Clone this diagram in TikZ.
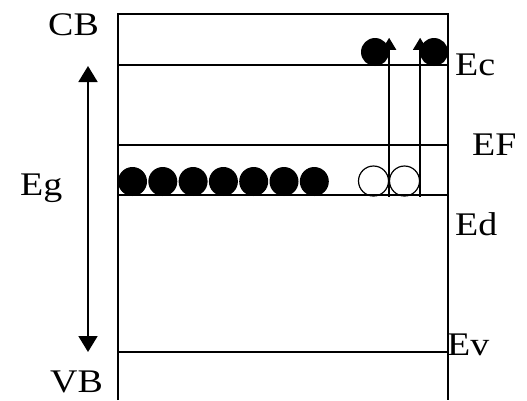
\documentclass[tikz,border=0pt]{standalone}
\usepackage{fontspec}
\setmainfont{Liberation Serif}[FakeStretch=1.15]
\usetikzlibrary{arrows.meta}

\begin{document}
\begin{tikzpicture}[x=1pt,y=-1pt]
	\tikzstyle{every node}+=[inner sep=0pt]
	\tikzstyle{lbl}=[anchor=base west, font=\fontsize{33}{33}\selectfont]
	\tikzstyle{band}=[black, line width=1.5pt]
	\tikzstyle{full}=[circle, fill=black, minimum size=29pt]
	\tikzstyle{hole}=[circle, draw=black, line width=1.2pt, minimum size=30pt]
	\tikzstyle{jump}=[black, line width=1.5pt, -{Triangle[length=12pt,width=14pt]}]
	\useasboundingbox (0,0) rectangle (527,400);
	\draw [band] (118,400) -- (118,14) -- (448,14) -- (448,400);
	\draw [band] (118,65) -- (448,65);
	\draw [band] (118,145) -- (448,145);
	\draw [band] (118,195) -- (448,195);
	\draw [band] (118,352) -- (448,352);
	\foreach \i in {0,...,6}
		\node [full] (d\i) at (132.5+30.3*\i,181.5) {};
	\node [hole] (h1) at (373.5,181) {};
	\node [hole] (h2) at (404.5,181) {};
	\node [full, minimum size=28pt] (c1) at (375,52) {};
	\node [full, minimum size=28pt] (c2) at (434,52) {};
	\draw [jump] (h1.east |- h1.south) -- (h1.east |- c1.north);
	\draw [jump] (h2.east |- h2.south) -- (h2.east |- c2.north);
	\coordinate (gtop) at (88,66);
	\coordinate (gbot) at (88,352);
	\draw [black, line width=1.8pt, {Triangle[length=16pt,width=19pt]}-{Triangle[length=16pt,width=19pt]}] (gtop) -- (gbot);
	\node [lbl] (cb) at (48,35) {CB};
	\node [lbl] (vb) at (50,392) {VB};
	\node [lbl] (eg) at (20,195) {Eg};
	\node [lbl] (ec) at (455,75) {Ec};
	\node [lbl] (ef) at (472,155) {EF};
	\node [lbl] (ed) at (455,235) {Ed};
	\node [lbl] (ev) at (447,355) {Ev};
\end{tikzpicture}
\end{document}
